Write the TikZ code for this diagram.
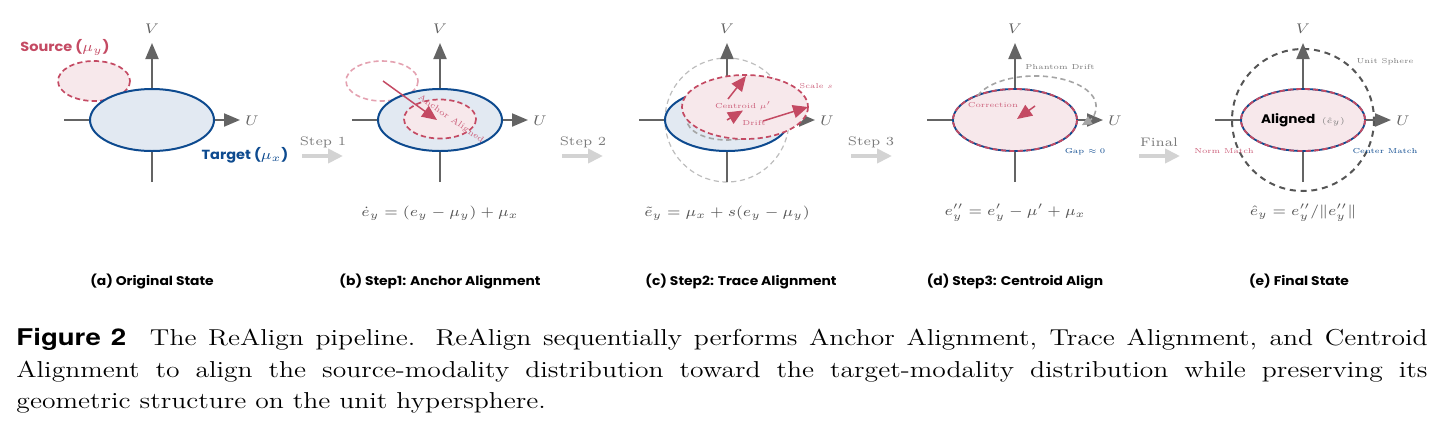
\documentclass[tikz,border=0pt]{standalone}
\usepackage{fontspec}
\usepackage{graphicx}
\usetikzlibrary{arrows.meta}
\newfontfamily\popf{Poppins}
\newfontfamily\herosf{TeX Gyre Heros}
\definecolor{pinkline}{HTML}{C44A63}
\definecolor{pinkfill}{HTML}{F7E8EB}
\definecolor{pinkfaded}{HTML}{E4A2B1}
\definecolor{pinktext}{HTML}{CC5F7A}
\definecolor{navy}{HTML}{0D4A8F}
\definecolor{bluefill}{HTML}{E2E9F2}
\definecolor{axgray}{HTML}{646464}
\definecolor{stepgray}{HTML}{D3D3D3}
\definecolor{txtgray}{HTML}{7A7A7A}
\definecolor{formgray}{HTML}{555555}
\definecolor{lightdash}{HTML}{BDBDBD}
\definecolor{middash}{HTML}{A5A5A5}
\definecolor{darkdash}{HTML}{555555}
\newcommand\panelaxes[2]{%
  \coordinate (#1hl) at (#2-88,120);
  \coordinate (#1hr) at (#2+88,120);
  \coordinate (#1vb) at (#2,182);
  \coordinate (#1vt) at (#2,43);
  \draw[axisline] (#1hl) -- (#1hr);
  \draw[axisline] (#1vb) -- (#1vt);
  \node[axlabel] (#1V) at (#2,29) {$V$};
  \node[axlabel] (#1U) at (#2+100,121) {$U$};
}
\tikzset{
  every node/.append style={inner sep=0pt, xscale=1.1},
  axisline/.style={draw=axgray, line width=1pt, -{Triangle[length=8pt,width=6.5pt]}},
  targetell/.style={draw=navy, fill=bluefill, line width=1pt},
  srcell/.style={draw=pinkline, fill=pinkfill, line width=0.85pt, dash pattern=on 2.6pt off 1.6pt},
  fadedell/.style={draw=pinkfaded, line width=0.8pt, dash pattern=on 2.6pt off 1.6pt},
  finalell/.style={draw=navy, fill=pinkfill, line width=0.9pt},
  finaldash/.style={draw=pinkline, line width=0.9pt, dash pattern=on 2.6pt off 1.6pt},
  pinkarrow/.style={draw=pinkline, line width=0.75pt, -{Triangle[length=7.5pt,width=6.5pt]}},
  steparrow/.style={draw=stepgray, line width=2pt, -{Triangle[length=7.5pt,width=7pt]}},
  phantom/.style={draw=middash, line width=0.8pt, dash pattern=on 2.6pt off 1.8pt, -{Triangle[length=5pt,width=4.5pt]}},
  axlabel/.style={text=axgray, font=\fontsize{7.5}{9}\selectfont},
  steplabel/.style={text=txtgray, font=\fontsize{6.2}{7.5}\selectfont},
  formula/.style={text=formgray, font=\fontsize{7.2}{9}\selectfont},
  subcap/.style={font=\popf\bfseries\fontsize{6.3}{7.5}\selectfont},
  popbold/.style={font=\popf\bfseries\fontsize{6.6}{8}\selectfont},
  tinylabel/.style={font=\fontsize{5}{6}\selectfont, scale=0.72},
}
\begin{document}
\begin{tikzpicture}[x=0.5pt, y=-0.5pt]
\useasboundingbox (0,0) rectangle (1443,434);

% ---------- panel (a)
\panelaxes{a}{152}
\coordinate (a-src) at (94,81);
\draw[srcell] (a-src) ellipse[x radius=36, y radius=20];
\coordinate (a-c) at (152,120);
\draw[targetell] (a-c) ellipse[x radius=62, y radius=31];
\node[popbold, text=pinkline] (a-srclab) at (65,47) {Source ($\mu_y$)};
\node[popbold, text=navy] (a-tgtlab) at (245,155) {Target ($\mu_x$)};

% ---------- step arrows
\coordinate (s1a) at (302,156); \coordinate (s1b) at (343,156);
\draw[steparrow] (s1a) -- (s1b);
\node[steplabel] (s1lab) at (323,142) {Step 1};
\coordinate (s2a) at (562,156); \coordinate (s2b) at (603,156);
\draw[steparrow] (s2a) -- (s2b);
\node[steplabel] (s2lab) at (583,142) {Step 2};
\coordinate (s3a) at (851,156); \coordinate (s3b) at (892,156);
\draw[steparrow] (s3a) -- (s3b);
\node[steplabel] (s3lab) at (871,142) {Step 3};
\coordinate (s4a) at (1139,156); \coordinate (s4b) at (1180,156);
\draw[steparrow] (s4a) -- (s4b);
\node[steplabel] (s4lab) at (1159,142) {Final};

% ---------- panel (b)
\panelaxes{b}{440}
\coordinate (b-old) at (382,81);
\draw[fadedell] (b-old) ellipse[x radius=36, y radius=20];
\coordinate (b-c) at (440,120);
\draw[targetell] (b-c) ellipse[x radius=62, y radius=31];
\coordinate (b-new) at (440,119);
\draw[srcell] (b-new) ellipse[x radius=36, y radius=19.5];
\coordinate (b-from) at (383,81); \coordinate (b-to) at (437,120);
\draw[pinkarrow] (b-from) -- (b-to);
\node[text=pinktext, xscale=0.909, scale=0.84, rotate=-35, font=\fontsize{5}{6}\selectfont] (b-lab) at (451,119) {Anchor Aligned};

% ---------- panel (c)
\coordinate (c-c) at (727,120);
\draw[draw=lightdash, line width=0.6pt, dash pattern=on 2.6pt off 1.8pt] (c-c) circle[radius=62];
\panelaxes{c}{727}
\draw[targetell] (c-c) ellipse[x radius=62, y radius=31];
\draw[draw=middash, line width=0.8pt, dash pattern=on 2.6pt off 1.8pt] (c-c) ellipse[x radius=40, y radius=20];
\coordinate (c-p) at (745,107);
\draw[srcell] (c-p) ellipse[x radius=63, y radius=32];
\coordinate (c-s1) at (728,99); \coordinate (c-s2) at (746,76);
\draw[pinkarrow] (c-s1) -- (c-s2);
\coordinate (c-m2) at (743,110.5);
\draw[pinkarrow] (c-c) -- (c-m2);
\coordinate (c-d1) at (763,121); \coordinate (c-d2) at (808,107);
\draw[pinkarrow] (c-d1) -- (c-d2);
\node[tinylabel, text=pinktext] (c-cent) at (743,106) {Centroid $\mu'$};
\node[tinylabel, text=pinktext] (c-drift) at (754,123) {Drift};
\node[tinylabel, text=pinktext] (c-scale) at (816,86) {Scale $s$};

% ---------- panel (d)
\panelaxes{d}{1015}
\coordinate (d-c) at (1015,120);
\draw[finalell] (d-c) ellipse[x radius=62, y radius=31];
\draw[finaldash] (d-c) ellipse[x radius=62, y radius=31];
\coordinate (d-ps) at (977.7,95.7);
\draw[phantom] (d-ps) arc[start angle=-160, end angle=40, x radius=61, y radius=30];
\coordinate (d-k1) at (1035,106); \coordinate (d-k2) at (1017,119);
\draw[pinkarrow] (d-k1) -- (d-k2);
\node[tinylabel, text=txtgray] (d-phl) at (1060,67) {Phantom Drift};
\node[tinylabel, text=pinktext] (d-corr) at (993,105) {Correction};
\node[tinylabel, text=navy] (d-gap) at (1085,152) {Gap $\approx 0$};

% ---------- panel (e)
\coordinate (e-c) at (1303,120);
\draw[draw=darkdash, line width=1pt, dash pattern=on 3pt off 2.4pt] (e-c) circle[radius=71];
\panelaxes{e}{1303}
\draw[finalell] (e-c) ellipse[x radius=62, y radius=31];
\draw[finaldash] (e-c) ellipse[x radius=62, y radius=31];
\node (e-lab) at (1303,120) {{\popf\bfseries\fontsize{6.2}{7}\selectfont Aligned}\hspace{3pt}{\color{txtgray}\fontsize{5}{6}\selectfont\scalebox{0.8}{$(\hat e_y)$}}};
\node[tinylabel, text=txtgray] (e-unit) at (1385,62) {Unit Sphere};
\node[tinylabel, text=pinktext] (e-norm) at (1224,151) {Norm Match};
\node[tinylabel, text=navy] (e-cent) at (1385,151) {Center Match};

% ---------- formulas
\node[formula] (fb) at (440,213) {$\dot e_y = (e_y - \mu_y) + \mu_x$};
\node[formula] (fc) at (727,213) {$\tilde e_y = \mu_x + s(e_y - \mu_y)$};
\node[formula] (fd) at (1015,213) {$e''_y = e'_y - \mu' + \mu_x$};
\node[formula] (fe) at (1303,213) {$\hat e_y = e''_y / \| e''_y \|$};

% ---------- subcaptions
\node[subcap] (capa) at (152,281) {(a) Original State};
\node[subcap] (capb) at (440,281) {(b) Step1: Anchor Alignment};
\node[subcap] (capc) at (741,281) {(c) Step2: Trace Alignment};
\node[subcap] (capd) at (1015,281) {(d) Step3: Centroid Align};
\node[subcap] (cape) at (1299,281) {(e) Final State};

% ---------- caption
\node[anchor=north west, xscale=1.0909, text width=588pt, align=justify,
      font=\fontsize{11.5}{15.85}\selectfont] (caption) at (16,328)
{{\herosf\bfseries Figure 2}\hspace{5pt} The ReAlign pipeline. ReAlign sequentially performs Anchor Alignment, Trace Alignment, and Centroid\linebreak
Alignment to align the source-modality distribution toward the target-modality distribution while preserving its\linebreak
geometric structure on the unit hypersphere.};
\end{tikzpicture}
\end{document}
